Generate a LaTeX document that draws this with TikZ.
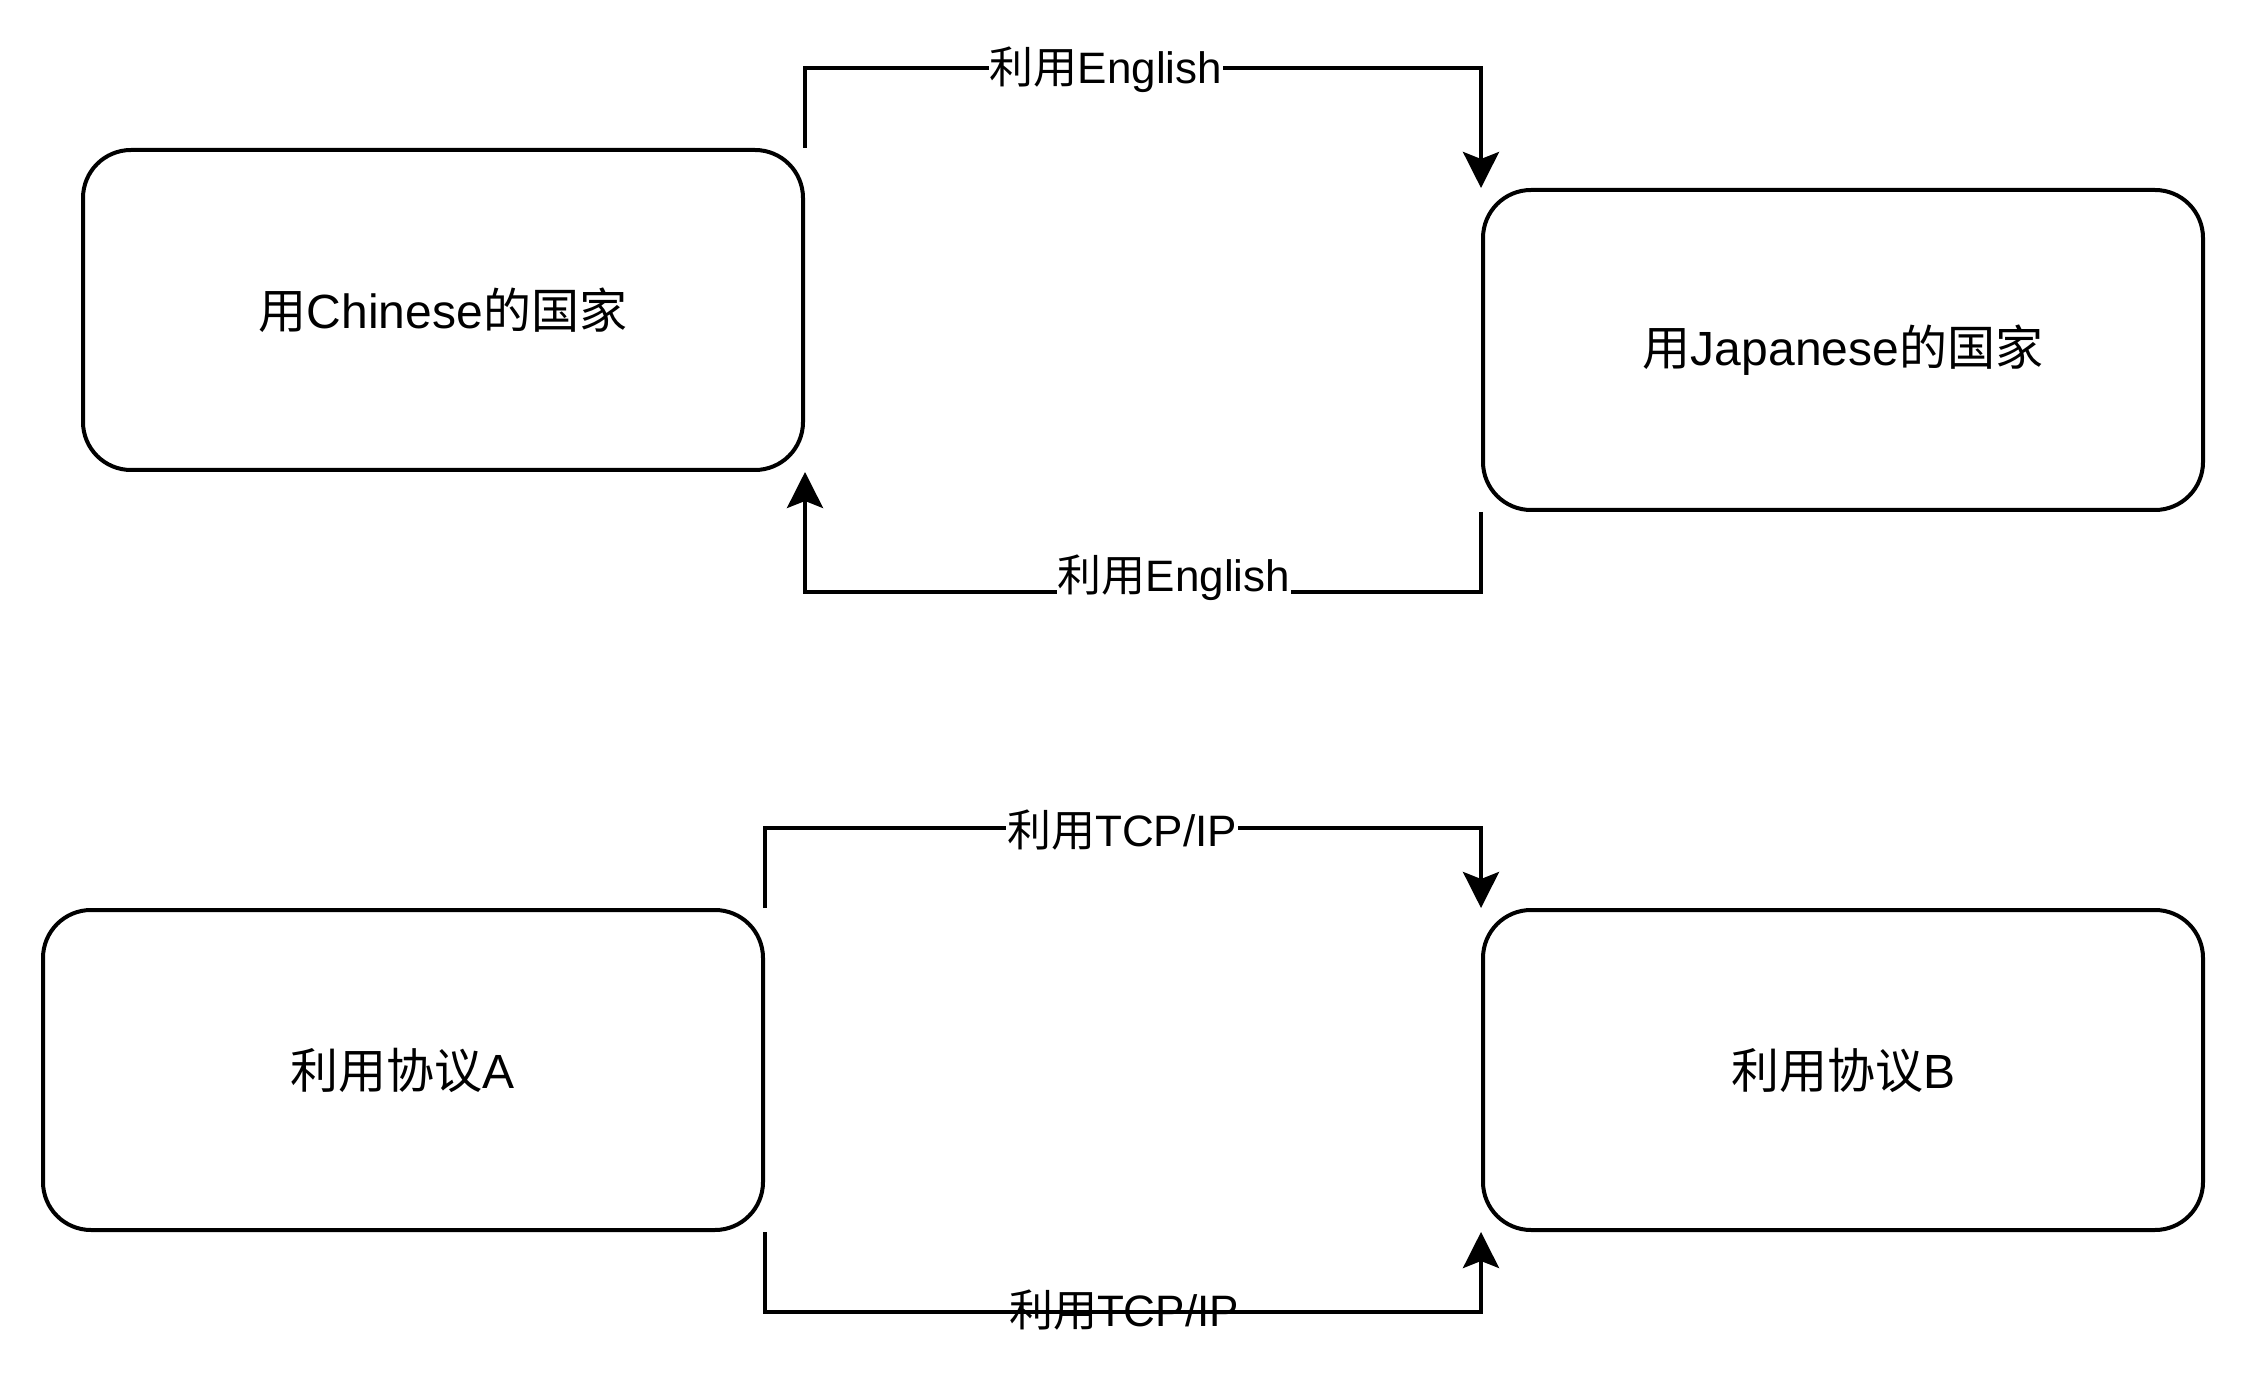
\documentclass[tikz,border=0pt]{standalone}
\usepackage{fontspec}
\setmainfont{Liberation Sans}
\newfontfamily\cjk{Noto Sans CJK SC}
\usetikzlibrary{arrows.meta}
\newcommand{\boxtext}[1]{\raisebox{1.5pt}{#1}}
\begin{document}
\begin{tikzpicture}[x=1pt,y=-1pt,
  box/.style={draw=black, line width=2pt, rounded corners=24pt, minimum width=360pt, minimum height=160pt, inner sep=0pt, font=\fontsize{24}{28}\selectfont},
  conn/.style={draw=black, line width=2pt, -{Stealth[length=18pt,width=18pt,inset=3.5pt]}},
  lbl/.style={inner sep=0.5pt, font=\fontsize{22}{26}\selectfont},
  lblbg/.style={lbl, fill=white}]
\fill[white] (0,0) rectangle (1124,692);
\useasboundingbox (0,0) rectangle (1124,692);
\node[box] (b1) at (221.5,155) {\boxtext{{\cjk 用}Chinese{\cjk 的国家}}};
\node[box] (b2) at (921.5,175) {\boxtext{{\cjk 用}Japanese{\cjk 的国家}}};
\node[box] (b3) at (201.5,535) {\boxtext{{\cjk 利用协议}A}};
\node[box] (b4) at (921.5,535) {\boxtext{{\cjk 利用协议}B}};
\draw[conn] (b1.north east) -- ++(0,-40) -| (b2.north west);
\draw[conn] (b2.south west) -- ++(0,40) -| (b1.south east);
\draw[conn] (b3.north east) -- ++(0,-40) -| (b4.north west);
\draw[conn] (b3.south east) -- ++(0,40) -| (b4.south west);
\node[lblbg] (l1) at (553,35) {{\cjk 利用}English};
\node[lblbg] (l2) at (587,289) {{\cjk 利用}English};
\node[lblbg] (l3) at (561,415) {{\cjk 利用}TCP/IP};
\node[lbl] (l4) at (562,655) {{\cjk 利用}TCP/IP};
\end{tikzpicture}
\end{document}
